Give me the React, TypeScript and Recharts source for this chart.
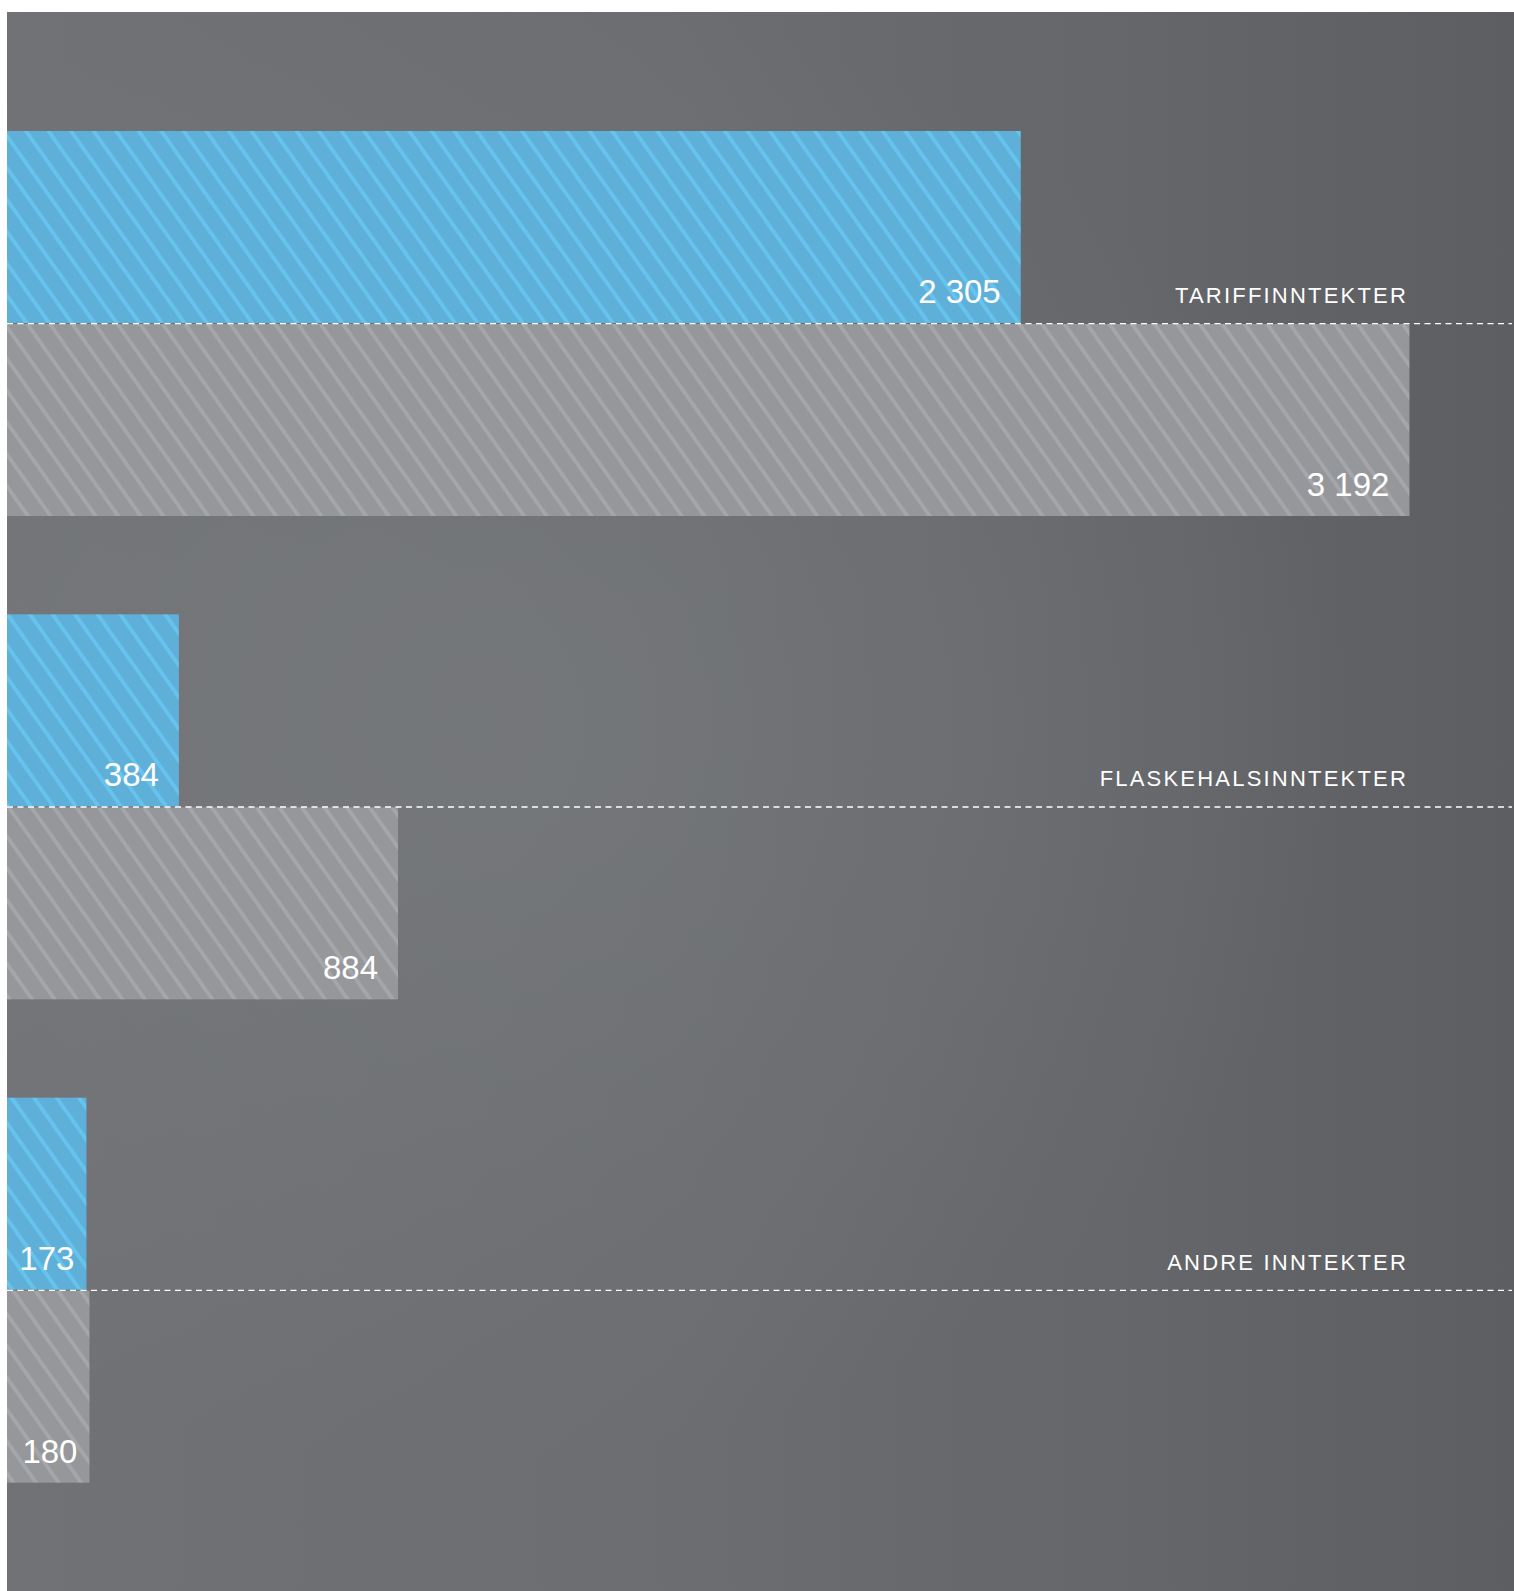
import { BarChart, Bar, XAxis, YAxis, ReferenceLine, LabelList } from 'recharts';

const categories = ['TARIFFINNTEKTER', 'FLASKEHALSINNTEKTER', 'ANDRE INNTEKTER'];
const blueValues = [2305, 384, 173];
const grayValues = [3192, 884, 180];

const data = categories.map((name, i) => ({
  name,
  blue: blueValues[i],
  gray: grayValues[i],
}));

const fmt = (v: number) => String(v).replace(/\B(?=(\d{3})+(?!\d))/g, ' ');

// bars start flush with the panel edge, a few px left of zero
function HatchBar(props: any) {
  const { x, y, width, height, fill, background } = props;
  const left = background && typeof background.x === 'number' ? background.x : x;
  return <rect x={left} y={y} width={x + width - left} height={height} fill={fill} />;
}

function ValueLabel(props: any) {
  const { x, y, width, height, value } = props;
  const pad = width < 120 ? 12 : 20;
  return (
    <text
      x={x + width - pad}
      y={y + height - 20}
      textAnchor="end"
      fill="#ffffff"
      fontSize={33}
      fontFamily="'Liberation Sans', Arial, sans-serif"
    >
      {fmt(value)}
    </text>
  );
}

function CategoryLabel(props: any) {
  const { y, height, value } = props;
  return (
    <text
      x={1401}
      y={y + height - 20}
      textAnchor="end"
      fill="#ffffff"
      fontSize={22}
      letterSpacing={2.2}
      fontFamily="'Liberation Sans', Arial, sans-serif"
    >
      {value}
    </text>
  );
}

export default function App() {
  return (
    <div style={{ position: 'absolute', left: 0, top: 0, width: 1514, height: 1591, background: '#ffffff' }}>
      <div
        style={{
          position: 'absolute',
          left: 7,
          top: 12,
          width: 1507,
          height: 1579,
          background:
            'radial-gradient(ellipse at 30% 45%, rgba(125,128,131,0.5) 0%, rgba(125,128,131,0) 60%), linear-gradient(to right, #707275 0%, #6b6d70 45%, #656669 75%, #5d5e61 100%)',
        }}
      >
        <BarChart
          width={1507}
          height={1579}
          data={data}
          layout="vertical"
          margin={{ top: 70, right: 2, bottom: 59, left: 0 }}
          barGap={1}
          barSize={192}
        >
          <defs>
            <pattern id="blueHatch" patternUnits="userSpaceOnUse" width="18.4" height="18.4" patternTransform="rotate(-35.3)">
              <rect width="18.4" height="18.4" fill="#5fb0d9" />
              <rect width="3.8" height="18.4" fill="#66c3ee" />
            </pattern>
            <pattern id="grayHatch" patternUnits="userSpaceOnUse" width="18.4" height="18.4" patternTransform="rotate(-35.3)">
              <rect width="18.4" height="18.4" fill="#96979a" />
              <rect width="3.8" height="18.4" fill="#a4a6a9" />
            </pattern>
          </defs>
          <XAxis type="number" hide domain={[-8.2, 3426]} />
          <YAxis type="category" dataKey="name" hide />
          <Bar dataKey="blue" fill="url(#blueHatch)" shape={<HatchBar />} isAnimationActive={false}>
            <LabelList dataKey="blue" content={<ValueLabel />} />
            <LabelList dataKey="name" content={<CategoryLabel />} />
          </Bar>
          <Bar dataKey="gray" fill="url(#grayHatch)" shape={<HatchBar />} isAnimationActive={false}>
            <LabelList dataKey="gray" content={<ValueLabel />} />
          </Bar>
          {categories.map((c) => (
            <ReferenceLine key={c} y={c} stroke="#ffffff" strokeWidth={1.3} strokeDasharray="6 4.5" />
          ))}
        </BarChart>
      </div>
    </div>
  );
}
